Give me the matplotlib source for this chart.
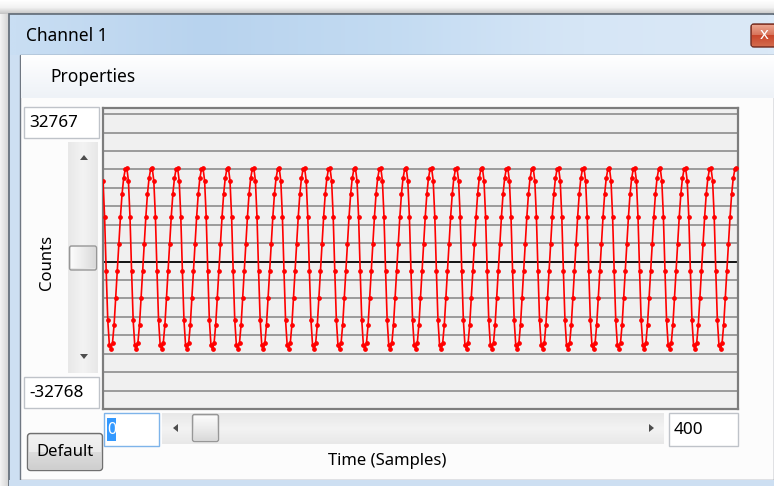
import numpy as np
import matplotlib
matplotlib.use("Agg")
import matplotlib.pyplot as plt
from matplotlib.patches import Rectangle, FancyBboxPatch, Polygon
from matplotlib.colors import to_rgb

# ---------------- data ----------------
window_title = "Channel 1"
menu_label = "Properties"
y_axis_label = "Counts"
x_axis_label = "Time (Samples)"
button_label = "Default"
y_limit_labels = ["32767", "-32768"]
x_limit_labels = ["0", "400"]
y_min, y_max = -32768, 32767
n_samples = 400
# one period (16 samples), starting at sample 0
cycle_counts = [18000, 10000, -2000, -13000, -18500, -19500, -18000, -14000,
                -8000, -2000, 4000, 10000, 15000, 18500, 20500, 20800]
grid_step = 4096

samples = np.arange(n_samples)
counts = np.array([cycle_counts[i % len(cycle_counts)] for i in samples])
grid_levels = np.arange(-32768, 32769, grid_step)

W, H = 774, 486
FONT = ["Noto Sans", "DejaVu Sans"]

fig = plt.figure(figsize=(W / 100, H / 100), dpi=100)
bg = fig.add_axes([0, 0, 1, 1])
bg.set_xlim(0, W)
bg.set_ylim(H, 0)
bg.axis("off")


def grad(ax, x0, x1, y0, y1, colors, horizontal=False, z=1):
    cols = np.array([to_rgb(c) for c in colors])
    n = 64
    t = np.linspace(0, 1, n)
    pos = np.linspace(0, 1, len(cols))
    arr = np.stack([np.interp(t, pos, cols[:, k]) for k in range(3)], axis=-1)
    if horizontal:
        img = arr[np.newaxis, :, :]
    else:
        img = arr[:, np.newaxis, :]
    ax.imshow(img, extent=(x0, x1, y1, y0), aspect="auto", zorder=z,
              interpolation="bilinear")


def rect(x0, y0, w, h, fc, ec="none", lw=1.0, z=2):
    bg.add_patch(Rectangle((x0, y0), w, h, facecolor=fc, edgecolor=ec, lw=lw, zorder=z))


# outer shadow
grad(bg, 0, W, 0, 15, ["#ffffff", "#f2f2f2", "#bdbdbd"], z=0)
grad(bg, 0, 10, 15, H, ["#f4f4f4", "#cfcfcf"], horizontal=True, z=0)
# window frame
rect(9, 14, W - 9, H - 14, "#cddff2", ec="#5f6a76", lw=1.2, z=1)
grad(bg, 10, W, 15, 55, ["#c9def3", "#b8d3ee", "#c3dbf2", "#d6e6f6", "#dbe9f7"],
     horizontal=True, z=1)
bg.text(26, 36, window_title, fontsize=12.5, family=FONT, color="#000000",
        va="center", ha="left", zorder=5)
# close button
bg.add_patch(FancyBboxPatch((751, 24), 40, 23, boxstyle="round,pad=0,rounding_size=3",
                            facecolor="#d05a3e", edgecolor="#6e2d22", lw=1.0, zorder=3))
grad(bg, 752, W, 25, 35, ["#eba58f", "#d8735a"], z=3)
grad(bg, 752, W, 35, 46, ["#c9452a", "#d36a4c"], z=3)
bg.text(764, 35, "x", fontsize=12, family=FONT, weight="bold", color="white",
        ha="center", va="center", zorder=6)
# client area
rect(20, 55, W - 20, 425, "#fcfcfc", ec="#6f7782", lw=1.0, z=2)
grad(bg, 21, W, 56, 98, ["#ffffff", "#f6f8fb", "#eef2f7"], z=2)
bg.text(50, 77, menu_label, fontsize=12.5, family=FONT, color="#000000",
        va="center", ha="left", zorder=5)


def textbox(x0, y0, w, h, txt, ec="#bfc3c9", selected=False):
    rect(x0, y0, w, h, "#ffffff", ec=ec, lw=1.0, z=3)
    if selected:
        rect(x0 + 3, y0 + 5, 9, h - 10, "#3399ff", z=4)
        bg.text(x0 + 7.5, y0 + h / 2 + 0.5, txt, fontsize=11.5, family=FONT,
                color="white", va="center", ha="center", zorder=5)
    else:
        bg.text(x0 + 5, y0 + h / 2 + 0.5, txt, fontsize=12.3, family=FONT,
                color="#000000", va="center", ha="left", zorder=5)


textbox(24, 107, 75, 31, y_limit_labels[0])
textbox(24, 377, 75, 31, y_limit_labels[1])
textbox(104, 413, 55, 33, x_limit_labels[0], ec="#7eb4ea", selected=True)
textbox(669, 413, 69, 33, x_limit_labels[1])

# vertical scrollbar
grad(bg, 68, 98, 142, 373, ["#e8e8e8", "#f3f3f3", "#e8e8e8"], horizontal=True, z=3)
bg.add_patch(Polygon([[80, 160], [88, 160], [84, 155]], closed=True, fc="#4d4d4d", ec="none", zorder=4))
bg.add_patch(Polygon([[80, 354], [88, 354], [84, 359]], closed=True, fc="#4d4d4d", ec="none", zorder=4))
bg.add_patch(FancyBboxPatch((69.5, 246), 27, 24, boxstyle="round,pad=0,rounding_size=2",
                            facecolor="#e6e6e6", edgecolor="#979797", lw=1.0, zorder=4))
grad(bg, 71, 95, 247.5, 268.5, ["#fbfbfb", "#ececec", "#dadada"], horizontal=True, z=4)
bg.text(47, 262, y_axis_label, rotation=90, fontsize=12, family=FONT,
        color="#000000", ha="center", va="center", zorder=5)

# horizontal scrollbar
grad(bg, 162, 664, 413, 444, ["#e8e8e8", "#f3f3f3", "#e8e8e8"], z=3)
bg.add_patch(Polygon([[178, 424], [178, 432], [173, 428]], closed=True, fc="#4d4d4d", ec="none", zorder=4))
bg.add_patch(Polygon([[649, 424], [649, 432], [654, 428]], closed=True, fc="#4d4d4d", ec="none", zorder=4))
bg.add_patch(FancyBboxPatch((192.5, 414.5), 26, 27, boxstyle="round,pad=0,rounding_size=2",
                            facecolor="#e6e6e6", edgecolor="#979797", lw=1.0, zorder=4))
grad(bg, 194, 217, 416, 440, ["#fbfbfb", "#ececec", "#dadada"], z=4)
bg.text(387, 461, x_axis_label, fontsize=12, family=FONT, color="#000000",
        ha="center", va="center", zorder=5)

# Default button
bg.add_patch(FancyBboxPatch((27.5, 433.5), 75, 37, boxstyle="round,pad=0,rounding_size=3",
                            facecolor="#e5e5e5", edgecolor="#707070", lw=1.0, zorder=4))
grad(bg, 29, 101, 435, 452, ["#f2f2f2", "#ebebeb"], z=4)
grad(bg, 29, 101, 452, 469, ["#dddddd", "#cfcfcf"], z=4)
bg.text(65, 452, button_label, fontsize=12, family=FONT, color="#000000",
        ha="center", va="center", zorder=6)

# bottom frame
rect(9, 480, W - 9, 6, "#cddff2", z=2)

# ---------------- plot ----------------
L, R, T, B = 103, 738, 108, 409
ax = fig.add_axes([L / W, 1 - B / H, (R - L) / W, (B - T) / H])
ax.set_facecolor("#f0f0f0")
ax.set_xlim(0, n_samples)
ax.set_ylim(y_min, 34150)
for lvl in grid_levels:
    if lvl == 0:
        continue
    ax.axhline(lvl, color="#9b9b9b", lw=1.4, zorder=1)
ax.axhline(0, color="#000000", lw=1.3, zorder=2)
ax.plot(samples, counts, color="#ff0000", lw=1.2, marker="o", ms=2.4,
        mec="#ff0000", mfc="#ff0000", zorder=3, clip_on=True)
ax.set_xticks([])
ax.set_yticks([])
for s in ax.spines.values():
    s.set_color("#7d7d7d")
    s.set_linewidth(1.6)

fig.savefig("out.png", dpi=100)
